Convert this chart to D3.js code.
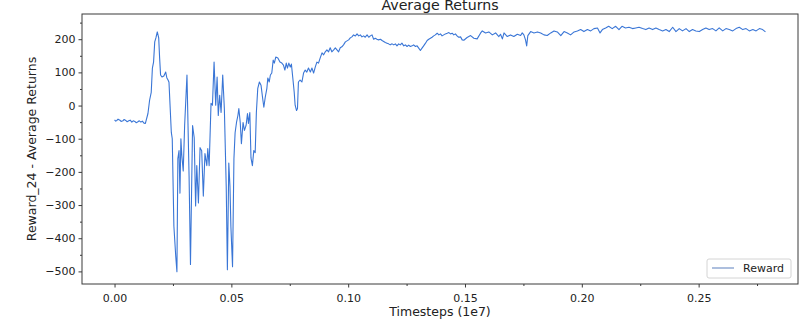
<!DOCTYPE html>
<html>
<head>
<meta charset="utf-8">
<script src="https://cdn.jsdelivr.net/npm/d3@7"></script>
<style>
	body { margin: 0; background: #fff; }
	text { font-family: "DejaVu Sans", sans-serif; fill: #222; }
</style>
</head>
<body>
<svg id="chart" width="807" height="331"></svg>
<script>

// Timesteps in units of 1e7
const timesteps = [
	0, .0005, .0010, .0015, .0023, .0028, .0036, .0041, .0048, .0054, .0061, .0067,
	.0074, .0080, .0087, .0093, .0100, .0106, .0113, .0119, .0126, .0132,
	.0143, .0150, .0157, .0162, .0167, .0172, .0177, .0183, .0189, .0193, .0197, .0203,
	.0211, .0219, .0224, .0229, .0233, .0243, .0247, .0254, .0262, .0267, .0271, .0276,
	.0280, .0284, .0288, .0294, .0300, .0310, .0319, .0325, .0334, .0341, .0347, .0352,
	.0359, .0366, .0373, .0380, .0387, .0395, .0399, .0405, .0413, .0419, .0426, .0433,
	.0439, .0444, .0450, .0456, .0463, .0470, .0478, .0483, .0489, .0494, .0498, .0505,
	.0511, .0516, .0522, .0528, .0532, .0538, .0543, .0550, .0556, .0563, .0569, .0573,
	.0579, .0584, .0590, .0596, .0602, .0607, .0613, .0620, .0627, .0635, .0639, .0645,
	.0652, .0656, .0662, .0667, .0673, .0679, .0684, .0690, .0699, .0708, .0716, .0723,
	.0729, .0735, .0740, .0746, .0752, .0757, .0763, .0769, .0773, .0779, .0783, .0787,
	.0794, .0802, .0809, .0816, .0823, .0830, .0838, .0845, .0852, .0859, .0866, .0873,
	.0880, .0888, .0895, .0902, .0909, .0916, .0923, .0930, .0938, .0945, .0952, .0959,
	.0966, .0973, .0980, .0988, .0995, .1002, .1009, .1016, .1023, .1031, .1038, .1045,
	.1052, .1059, .1066, .1073, .1081, .1088, .1095, .1102, .1109, .1116, .1123, .1130,
	.1138, .1145, .1152, .1159, .1166, .1173, .1180, .1188, .1195, .1202, .1209, .1216,
	.1223, .1230, .1238, .1245, .1252, .1259, .1266, .1274, .1280, .1288, .1295, .1302,
	.1309, .1316, .1323, .1331, .1338, .1345, .1352, .1359, .1366, .1373, .1381, .1388,
	.1395, .1402, .1409, .1416, .1424, .1431, .1438, .1445, .1452, .1459, .1466, .1473,
	.1481, .1488, .1495, .1509, .1524, .1538, .1552, .1567, .1574, .1588, .1602, .1617,
	.1631, .1645, .1652, .1660, .1667, .1681, .1695, .1709, .1724, .1738, .1745, .1752,
	.1759, .1764, .1769, .1781, .1795, .1810, .1824, .1838, .1852, .1867, .1881, .1895,
	.1910, .1924, .1938, .1952, .1967, .1981, .1995, .2009, .2024, .2038, .2052, .2067,
	.2078, .2088, .2102, .2115, .2130, .2145, .2159, .2172, .2187, .2202, .2217, .2231,
	.2245, .2260, .2274, .2288, .2303, .2317, .2331, .2346, .2360, .2374, .2389, .2403,
	.2417, .2431, .2446, .2460, .2474, .2488, .2503, .2517, .2531, .2545, .2560, .2574,
	.2588, .2603, .2617, .2631, .2646, .2660, .2674, .2689, .2703, .2717, .2732, .2746,
	.2760, .2774, .2786
]

// Average returns
const rewards = [
	-43, -47, -45, -41, -44, -48, -46, -42, -45, -49, -46, -44,
	-50, -46, -48, -52, -49, -46, -50, -47, -53, -54,
	-24, 16, 40, 113, 131, 192, 204, 222, 204, 143, 92, 86,
	89, 101, 83, 77, 70, -81, -100, -364, -455, -501, -160, -136,
	-264, -100, -151, -197, -60, 92, -212, -479, -60, -97, -303, -181,
	-294, -127, -136, -273, -145, -181, -130, -181, 7, 1, 131, 1,
	86, -30, 31, -21, 92, -9, -243, -495, -173, -243, -365, -486,
	-160, -82, -51, -30, -9, -51, -115, -51, -75, -60, -24, -54,
	-21, -158, -181, -136, -142, -21, 52, 71, 61, 16, -5, 25,
	52, 83, 71, 92, 98, 137, 128, 146, 143, 131, 128, 122,
	107, 128, 113, 128, 116, 125, 83, 40, 1, -15, -9, 71,
	77, 71, 98, 107, 101, 113, 101, 113, 98, 116, 131, 128,
	143, 159, 153, 162, 168, 162, 174, 162, 168, 174, 168, 162,
	174, 177, 183, 192, 195, 198, 204, 207, 213, 210, 216, 210,
	213, 207, 210, 206, 213, 206, 210, 213, 200, 203, 200, 198,
	200, 196, 193, 190, 188, 186, 183, 186, 183, 186, 180, 186,
	183, 188, 180, 183, 178, 182, 178, 180, 183, 178, 180, 173,
	166, 173, 180, 188, 196, 200, 203, 206, 210, 213, 218, 213,
	216, 210, 213, 216, 218, 220, 216, 218, 213, 216, 210, 206,
	207, 198, 197, 205, 211, 203, 201, 219, 225, 219, 222, 213,
	219, 208, 215, 201, 219, 208, 213, 208, 215, 211, 219, 213,
	198, 180, 211, 223, 219, 222, 219, 213, 211, 219, 225, 222,
	211, 223, 219, 213, 222, 225, 229, 223, 229, 225, 232, 234,
	219, 229, 234, 239, 232, 239, 229, 239, 234, 236, 232, 234,
	236, 232, 229, 234, 229, 234, 229, 225, 229, 223, 236, 223,
	232, 225, 232, 223, 229, 225, 223, 229, 234, 229, 232, 225,
	234, 225, 232, 229, 225, 232, 236, 229, 232, 225, 229, 225,
	232, 229, 222
]

const xTicks = [0, 0.05, 0.10, 0.15, 0.20, 0.25]
const xMinorTicks = [0.025, 0.075, 0.125, 0.175, 0.225, 0.275]
const yTicks = [-500, -400, -300, -200, -100, 0, 100, 200]
const yMinorTicks = [-450, -350, -250, -150, -50, 50, 150, 250]

const seriesName = 'Reward'
const chartTitle = 'Average Returns'
const xLabel = 'Timesteps (1e7)'
const yLabel = 'Reward_24 - Average Returns'

const lineColor = '#3a76d6'
const spineColor = '#3a3a3a'

const margin = { top: 14, right: 9, bottom: 47, left: 82 }
const W = 807
const H = 331
const plotW = W - margin.left - margin.right
const plotH = H - margin.top - margin.bottom

const data = timesteps.map((t, i) => ({ t: t, v: rewards[i] }))

// matplotlib style 5% padding around the data
function padded(ext) {
	const pad = (ext[1] - ext[0]) * 0.05
	return [ext[0] - pad, ext[1] + pad]
}

const x = d3.scaleLinear()
	.domain(padded(d3.extent(timesteps)))
	.range([0, plotW])

const y = d3.scaleLinear()
	.domain(padded(d3.extent(rewards)))
	.range([plotH, 0])

const svg = d3.select('#chart')
const g = svg.append('g')
	.attr('transform', `translate(${margin.left},${margin.top})`)

// line
const line = d3.line()
	.x(d => x(d.t))
	.y(d => y(d.v))

g.append('path')
	.datum(data)
	.attr('fill', 'none')
	.attr('stroke', lineColor)
	.attr('stroke-width', 1.1)
	.attr('stroke-linejoin', 'round')
	.attr('d', line)

// frame
g.append('rect')
	.attr('width', plotW)
	.attr('height', plotH)
	.attr('fill', 'none')
	.attr('stroke', spineColor)
	.attr('stroke-width', 1)

// axes
const xAxis = g.append('g')
	.attr('transform', `translate(0,${plotH})`)
	.call(d3.axisBottom(x).tickValues(xTicks).tickFormat(d3.format('.2f')).tickSize(3.5).tickPadding(7))
const xMinor = g.append('g')
	.attr('transform', `translate(0,${plotH})`)
	.call(d3.axisBottom(x).tickValues(xMinorTicks).tickFormat('').tickSize(2))

const yAxis = g.append('g')
	.call(d3.axisLeft(y).tickValues(yTicks).tickFormat(d3.format('d')).tickSize(3.5).tickPadding(3))
const yMinor = g.append('g')
	.call(d3.axisLeft(y).tickValues(yMinorTicks).tickFormat('').tickSize(2))

;[xAxis, xMinor, yAxis, yMinor].forEach(a => {
	a.select('.domain').remove()
	a.selectAll('line').attr('stroke', spineColor)
	a.selectAll('text')
		.style('font-family', '"DejaVu Sans", sans-serif')
		.style('font-size', '11px')
		.attr('fill', '#222')
})

// titles
svg.append('text')
	.attr('x', margin.left + plotW / 2)
	.attr('y', 9.5)
	.attr('text-anchor', 'middle')
	.style('font-size', '14.2px')
	.text(chartTitle)

svg.append('text')
	.attr('x', margin.left + plotW / 2)
	.attr('y', 316)
	.attr('text-anchor', 'middle')
	.style('font-size', '12.5px')
	.text(xLabel)

svg.append('text')
	.attr('transform', `translate(36,${margin.top + plotH / 2}) rotate(-90)`)
	.attr('text-anchor', 'middle')
	.style('font-size', '12.5px')
	.text(yLabel)

// legend, lower right
const legend = svg.append('g')
	.attr('transform', 'translate(707,259)')

legend.append('rect')
	.attr('width', 84)
	.attr('height', 19)
	.attr('rx', 2)
	.attr('fill', '#fff')
	.attr('stroke', '#d4d4d4')

legend.append('line')
	.attr('x1', 5).attr('x2', 27)
	.attr('y1', 9).attr('y2', 9)
	.attr('stroke', '#7794c8')
	.attr('stroke-width', 1.2)

legend.append('text')
	.attr('x', 36)
	.attr('y', 13)
	.style('font-size', '11px')
	.text(seriesName)

</script>
</body>
</html>
